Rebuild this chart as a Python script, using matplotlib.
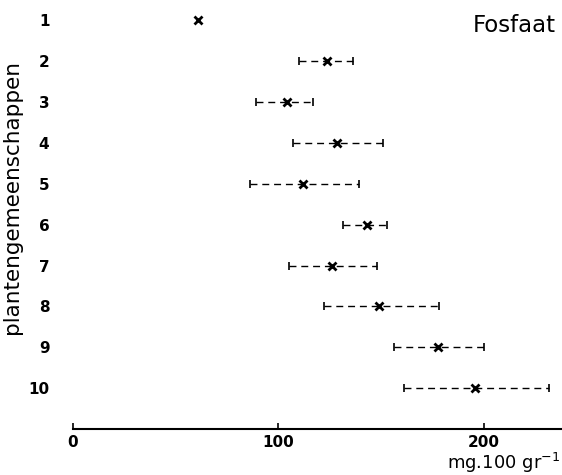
import matplotlib
matplotlib.use("Agg")
import matplotlib.pyplot as plt

communities = [1, 2, 3, 4, 5, 6, 7, 8, 9, 10]
means = [61, 123.5, 104, 128.5, 112, 143, 126, 149, 177.5, 195.5]
lower = [None, 110, 89, 107, 86, 131.5, 105, 122, 156, 161]
upper = [None, 136.5, 117, 151, 139, 153, 148, 178, 200, 231.5]
xticks = [0, 100, 200]

fig = plt.figure(figsize=(5.62, 4.75), dpi=100)
ax = fig.add_axes([73 / 562, 1 - 429 / 475, 1 - 73 / 562, 429 / 475])

for c, m, lo, hi in zip(communities, means, lower, upper):
    if lo is not None:
        eb = ax.errorbar([m], [c], xerr=[[m - lo], [hi - m]], fmt='none',
                         ecolor='black', elinewidth=1.0, capsize=3, capthick=1.2)
        eb[2][0].set_linestyle((0, (5, 3.5)))
    ax.plot([m], [c], marker='x', color='black', markersize=6,
            markeredgewidth=2.0, linestyle='none', zorder=3)

ax.set_xlim(0, 238)
ax.set_ylim(11, 0.5)
for s in ['top', 'right', 'left']:
    ax.spines[s].set_visible(False)
ax.spines['bottom'].set_linewidth(1.5)
ax.set_yticks(communities)
ax.set_yticklabels([str(c) for c in communities], fontweight='bold', fontsize=11)
ax.tick_params(axis='y', length=0, pad=17)
ax.set_xticks(xticks)
ax.set_xticklabels([str(t) for t in xticks], fontweight='bold', fontsize=11)
ax.tick_params(axis='x', direction='in', length=4, width=1.2, pad=4)

fig.text(12 / 562, 1 - 197 / 475, 'plantengemeenschappen', rotation=90,
         ha='center', va='center', fontsize=15.5)
fig.text(556 / 562, 1 - 25 / 475, 'Fosfaat', ha='right', va='center', fontsize=16.5)
fig.text(560 / 562, 1 - 463 / 475, 'mg.100 gr$^{-1}$', ha='right', va='center', fontsize=13)

fig.savefig('out.png', dpi=100)
